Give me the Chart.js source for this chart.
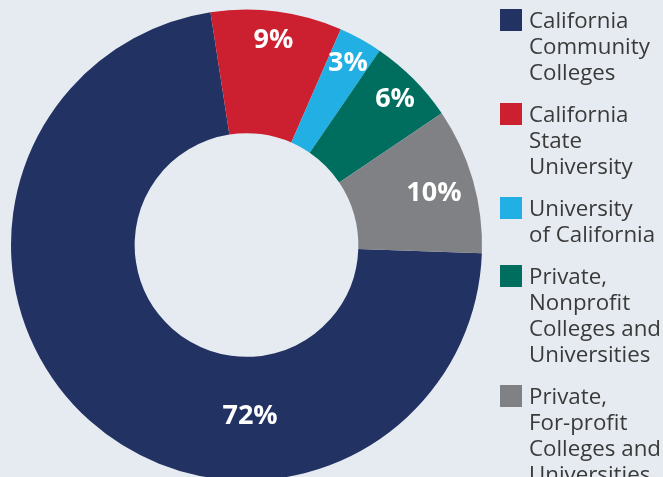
<!DOCTYPE html>
<html>
<head>
<meta charset="utf-8">
<script src="https://cdn.jsdelivr.net/npm/chart.js@4.4.1/dist/chart.umd.min.js"></script>
<style>
  html, body { margin: 0; padding: 0; background: #e6ebf2; width: 663px; height: 477px; overflow: hidden; }
  #wrap { position: relative; width: 663px; height: 477px; overflow: hidden; }
  #c { position: absolute; left: 0; top: 0; }
  #legend { position: absolute; left: 500px; top: 9px; font-family: "Open Sans", sans-serif; font-size: 22.3px; color: #3a3a3a; }
  .item { display: flex; align-items: flex-start; margin-bottom: 18px; }
  .sw { width: 22px; height: 22px; flex: none; }
  .lab { margin-left: 7px; line-height: 26px; margin-top: -2px; white-space: nowrap; }
</style>
</head>
<body>
<div id="wrap">
  <canvas id="c" width="663" height="490"></canvas>
  <div id="legend"></div>
</div>
<script>
const categories = [
  ["California", "Community", "Colleges"],
  ["California", "State", "University"],
  ["University", "of California"],
  ["Private,", "Nonprofit", "Colleges and", "Universities"],
  ["Private,", "For-profit", "Colleges and", "Universities"]
];
const shares = [72, 9, 3, 6, 10];
const valueLabels = ["72%", "9%", "3%", "6%", "10%"];
const colors = ["#223263", "#cc1f30", "#22b0e4", "#006e5f", "#808184"];

// HTML legend
const leg = document.getElementById('legend');
categories.forEach((lines, i) => {
  const it = document.createElement('div');
  it.className = 'item';
  const sw = document.createElement('div');
  sw.className = 'sw';
  sw.style.background = colors[i];
  const lab = document.createElement('div');
  lab.className = 'lab';
  lines.forEach((l, k) => {
    if (k) lab.appendChild(document.createElement('br'));
    lab.appendChild(document.createTextNode(l));
  });
  it.appendChild(sw);
  it.appendChild(lab);
  leg.appendChild(it);
});

const labelPlugin = {
  id: 'sliceLabels',
  afterDatasetsDraw(chart, args, opts) {
    const ctx = chart.ctx;
    const meta = chart.getDatasetMeta(0);
    ctx.save();
    ctx.fillStyle = '#ffffff';
    ctx.font = 'bold 27px "Open Sans", sans-serif';
    ctx.textAlign = 'center';
    ctx.textBaseline = 'alphabetic';
    meta.data.forEach((arc, i) => {
      const p = arc.getProps(['x', 'y', 'startAngle', 'endAngle', 'outerRadius'], true);
      let ang = (p.startAngle + p.endAngle) / 2;
      if (opts.angleOverride[i] !== null) ang = opts.angleOverride[i] * Math.PI / 180 - Math.PI / 2;
      const r = p.outerRadius * opts.radiusFrac[i];
      const x = p.x + Math.cos(ang) * r;
      const y = p.y + Math.sin(ang) * r;
      ctx.fillText(valueLabels[i], x, y + 9.6);
    });
    ctx.restore();
  }
};

new Chart(document.getElementById('c'), {
  type: 'doughnut',
  data: {
    labels: categories.map(l => l.join(' ')),
    datasets: [{
      data: shares,
      backgroundColor: colors,
      borderWidth: 0
    }]
  },
  options: {
    responsive: false,
    animation: false,
    devicePixelRatio: 1,
    rotation: 92,
    cutout: '47.5%',
    layout: { padding: { left: 11, right: 181, top: 9, bottom: 9 } },
    plugins: {
      legend: { display: false },
      tooltip: { enabled: false },
      sliceLabels: {
        angleOverride: [178.8, null, null, null, null],
        radiusFrac: [0.718, 0.885, 0.889, 0.889, 0.828]
      }
    }
  },
  plugins: [labelPlugin]
});
</script>
</body>
</html>
